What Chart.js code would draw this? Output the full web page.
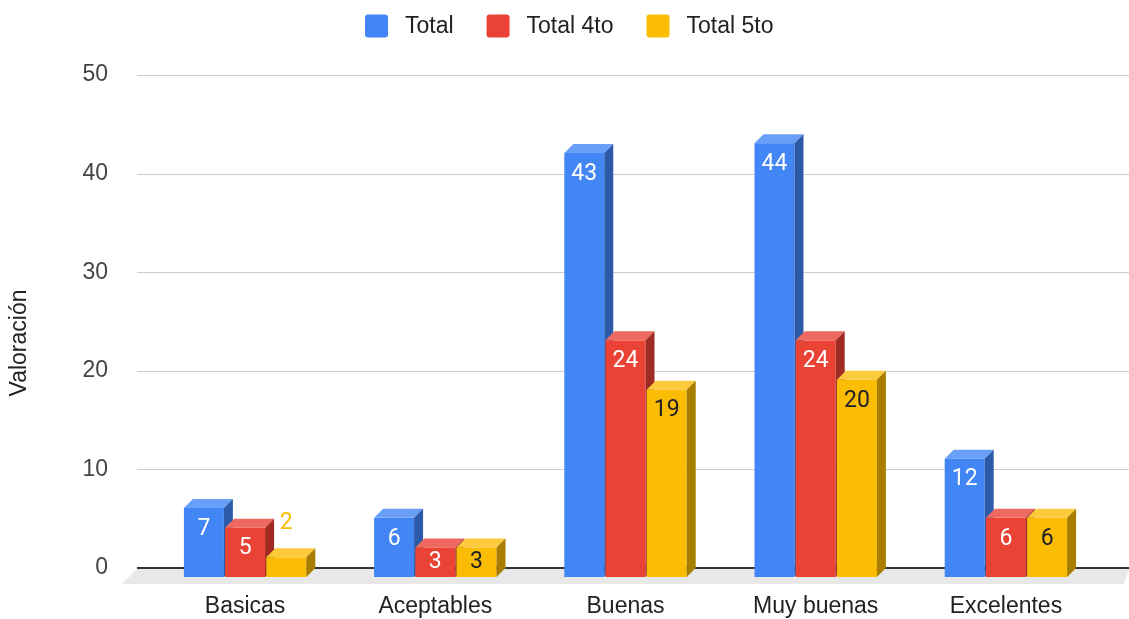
<!DOCTYPE html>
<html lang="es">

<head>
    <meta charset="UTF-8">
    <title>Valoración</title>
    <script src="https://cdn.jsdelivr.net/npm/chart.js"></script>
    <style>
        html, body {
            margin: 0;
            padding: 0;
            background: #ffffff;
            overflow: hidden;
        }

        .chart-box {
            position: relative;
            width: 1129px;
            height: 619px;
        }
    </style>
</head>

<body>
    <div class="chart-box">
        <canvas id="valoracionChart"></canvas>
    </div>

    <script>
        // Chart data
        const categories = ["Basicas", "Aceptables", "Buenas", "Muy buenas", "Excelentes"];
        const seriesNames = ["Total", "Total 4to", "Total 5to"];
        const totalValues = [7, 6, 43, 44, 12];
        const total4toValues = [5, 3, 24, 24, 6];
        const total5toValues = [2, 3, 19, 20, 6];
        const yTicks = [0, 10, 20, 30, 40, 50];

        // Face colours for the 3D look
        const frontColors = ["#4285f4", "#ea4335", "#fbbc04"];
        const topColors = ["#6a9ff7", "#ee6a60", "#fcca3a"];
        const sideColors = ["#2c59a8", "#a02b23", "#a87e00"];
        const insideLabelColors = ["#ffffff", "#ffffff", "#202124"];

        const AXIS_FONT = "'Liberation Sans', Arial, sans-serif";
        const LABEL_FONT = "Roboto, 'Liberation Sans', sans-serif";
        const DX = 9;
        const DY = 9;

        // Draws the floor, grid lines, 3D bars, value labels, legend and y title
        const threeDPlugin = {
            id: "threeD",
            beforeDatasetsDraw(chart) {
                const ctx = chart.ctx;
                const y = chart.scales.y;
                const zero = y.getPixelForValue(0);

                ctx.save();
                // floor
                ctx.fillStyle = "#e8e8e8";
                ctx.beginPath();
                ctx.moveTo(137, zero + 1);
                ctx.lineTo(1129, zero + 1);
                ctx.lineTo(1124, zero + 16);
                ctx.lineTo(122, zero + 16);
                ctx.closePath();
                ctx.fill();

                // grid lines
                yTicks.forEach(t => {
                    const py = Math.round(y.getPixelForValue(t));
                    ctx.strokeStyle = t === 0 ? "#333333" : "#cccccc";
                    ctx.lineWidth = t === 0 ? 2 : 1;
                    ctx.beginPath();
                    ctx.moveTo(137, py + (t === 0 ? 0 : 0.5));
                    ctx.lineTo(1129, py + (t === 0 ? 0 : 0.5));
                    ctx.stroke();
                });

                // bars, left to right inside each group
                const metas = chart.data.datasets.map((d, i) => chart.getDatasetMeta(i));
                categories.forEach((c, i) => {
                    metas.forEach((meta, d) => {
                        const el = meta.data[i];
                        const x0 = el.x - el.width / 2;
                        const x1 = el.x + el.width / 2;
                        const yt = el.y + DY;
                        const yb = el.base + DY;

                        ctx.fillStyle = frontColors[d];
                        ctx.fillRect(x0, yt, x1 - x0, yb - yt);

                        ctx.fillStyle = topColors[d];
                        ctx.beginPath();
                        ctx.moveTo(x0, yt);
                        ctx.lineTo(x1, yt);
                        ctx.lineTo(x1 + DX, yt - DY);
                        ctx.lineTo(x0 + DX, yt - DY);
                        ctx.closePath();
                        ctx.fill();

                        ctx.fillStyle = sideColors[d];
                        ctx.beginPath();
                        ctx.moveTo(x1, yt);
                        ctx.lineTo(x1 + DX, yt - DY);
                        ctx.lineTo(x1 + DX, yb - DY);
                        ctx.lineTo(x1, yb);
                        ctx.closePath();
                        ctx.fill();
                    });
                });

                // value labels
                ctx.font = "23px " + LABEL_FONT;
                ctx.textAlign = "center";
                ctx.textBaseline = "middle";
                metas.forEach((meta, d) => {
                    const values = chart.data.datasets[d].data;
                    meta.data.forEach((el, i) => {
                        const yt = el.y + DY;
                        const yb = el.base + DY;
                        if (yb - yt >= 24) {
                            ctx.fillStyle = insideLabelColors[d];
                            ctx.fillText(values[i], el.x, Math.min(yt + 21, (yt + yb) / 2));
                        } else {
                            ctx.fillStyle = frontColors[d];
                            ctx.fillText(values[i], el.x, el.y - 25);
                        }
                    });
                });
                ctx.restore();
                return false;
            },
            afterDraw(chart) {
                const ctx = chart.ctx;
                ctx.save();

                // legend
                ctx.font = "23px " + AXIS_FONT;
                ctx.textBaseline = "middle";
                ctx.textAlign = "left";
                let lx = 365;
                chart.data.datasets.forEach(ds => {
                    ctx.fillStyle = ds.backgroundColor;
                    ctx.beginPath();
                    ctx.roundRect(lx, 14.5, 23, 23, 3);
                    ctx.fill();
                    ctx.fillStyle = "#222222";
                    ctx.fillText(ds.label, lx + 40, 27);
                    lx += 40 + ctx.measureText(ds.label).width + 33;
                });

                // y axis title
                ctx.translate(20, 343);
                ctx.rotate(-Math.PI / 2);
                ctx.textAlign = "center";
                ctx.fillStyle = "#222222";
                ctx.fillText("Valoración", 0, 0);
                ctx.restore();
            }
        };

        const ctx = document.getElementById("valoracionChart").getContext("2d");
        new Chart(ctx, {
            type: "bar",
            data: {
                labels: categories,
                datasets: [
                    { label: seriesNames[0], data: totalValues, backgroundColor: frontColors[0] },
                    { label: seriesNames[1], data: total4toValues, backgroundColor: frontColors[1] },
                    { label: seriesNames[2], data: total5toValues, backgroundColor: frontColors[2] }
                ]
            },
            options: {
                responsive: true,
                maintainAspectRatio: false,
                animation: false,
                categoryPercentage: 0.65,
                barPercentage: 0.97,
                layout: { padding: { top: 75, right: 28, bottom: 0, left: 0 } },
                plugins: {
                    legend: { display: false },
                    tooltip: { enabled: false }
                },
                scales: {
                    x: {
                        grid: { display: false, drawTicks: false },
                        border: { display: false },
                        ticks: {
                            color: "#222222",
                            padding: 25,
                            font: { size: 23, family: AXIS_FONT }
                        },
                        afterFit: s => { s.height = 51; }
                    },
                    y: {
                        min: 0,
                        max: 50,
                        grid: { display: false, drawTicks: false },
                        border: { display: false },
                        ticks: {
                            stepSize: 10,
                            color: "#444444",
                            padding: 42,
                            font: { size: 23, family: AXIS_FONT }
                        },
                        // tick padding would otherwise push the plot area up
                        afterFit: s => {
                            s.width = 150;
                            s.paddingTop = 14;
                            s.paddingBottom = 14;
                        }
                    }
                }
            },
            plugins: [threeDPlugin]
        });
    </script>
</body>

</html>
